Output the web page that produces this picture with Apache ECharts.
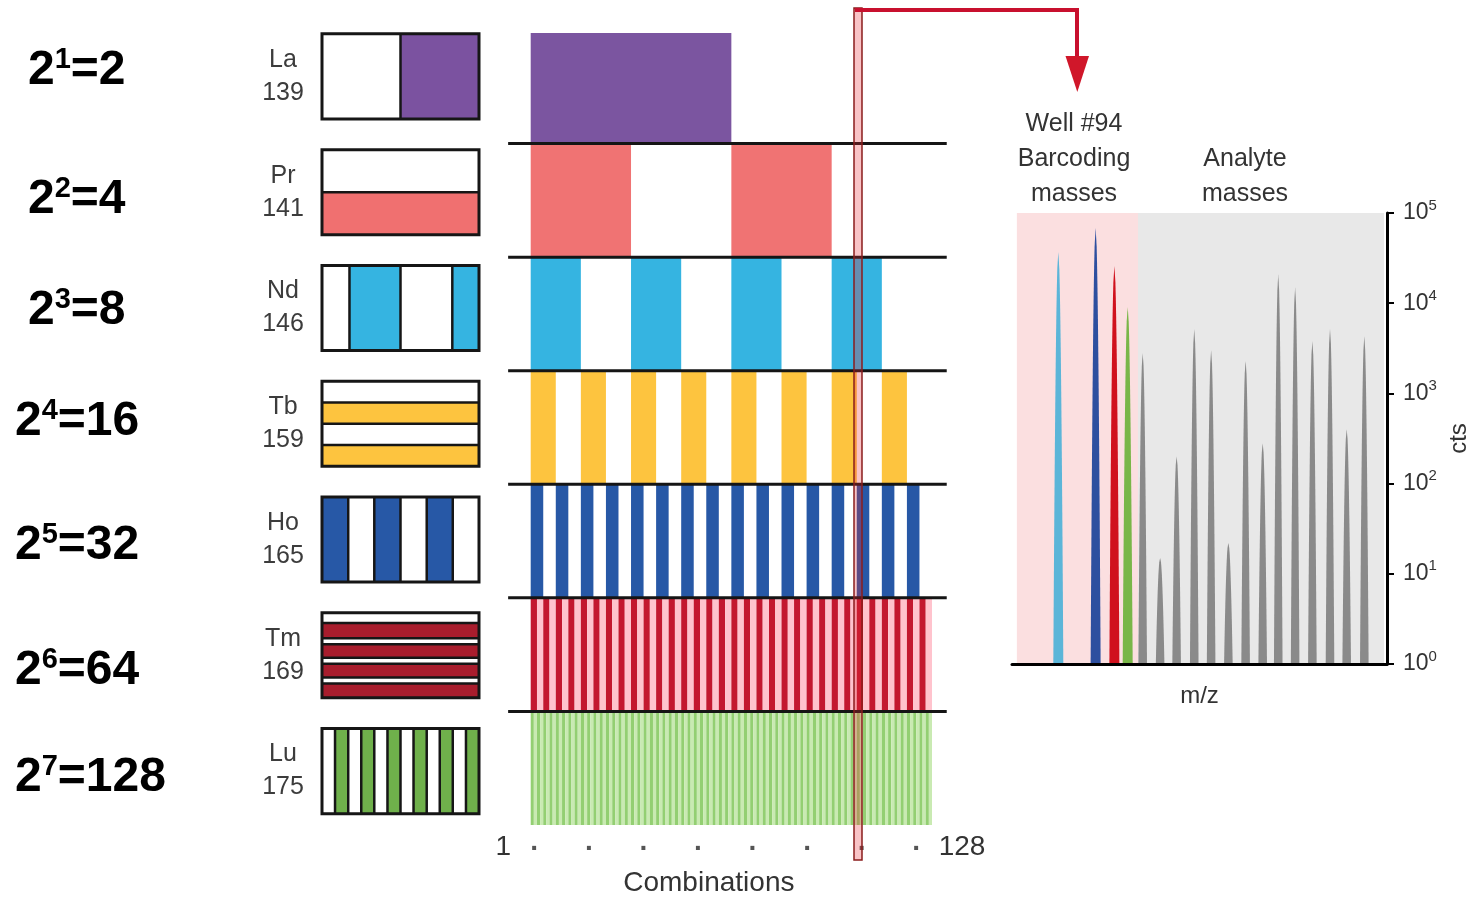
<!DOCTYPE html>
<html>
<head>
<meta charset="utf-8">
<title>Metal barcoding</title>
<script src="https://cdn.jsdelivr.net/npm/echarts@6/dist/echarts.min.js"></script>
<style>
  html, body { margin: 0; padding: 0; background: #fff; }
  #chart { width: 1476px; height: 897px; }
</style>
</head>
<body>
<div id="chart"></div>
<script>
// barcoding channels, top to bottom
const metals = ['La', 'Pr', 'Nd', 'Tb', 'Ho', 'Tm', 'Lu']
const masses = [139, 141, 146, 159, 165, 169, 175]
const exponents = [1, 2, 3, 4, 5, 6, 7]
const wellCounts = [2, 4, 8, 16, 32, 64, 128]
// each row alternates filled / empty blocks of this many combinations
const runLengths = [64, 32, 16, 8, 4, 2, 1]
const totalCombos = 128
const comboDots = ['·', '·', '·', '·', '·', '·', '·', '·']

// small key boxes: stripe direction, stripe boundaries (fraction of box), first stripe filled?
const keyOrient = ['v', 'h', 'v', 'h', 'v', 'h', 'v']
const keyFirstFilled = [false, false, false, false, true, false, false]
const keyCuts = [
  [0, 0.5, 1],
  [0, 0.5, 1],
  [0, 0.175, 0.5, 0.83, 1],
  [0, 0.25, 0.5, 0.75, 1],
  [0, 0.167, 0.333, 0.5, 0.667, 0.833, 1],
  [0, 0.12, 0.3, 0.37, 0.53, 0.6, 0.76, 0.83, 1],
  [0, 0.083, 0.167, 0.25, 0.333, 0.417, 0.5, 0.583, 0.667, 0.75, 0.833, 0.917, 1],
]

// spectrum of well #94 (x in arbitrary m/z units, counts on log scale)
const peakMz = [12.35, 22.3, 27.3, 30.85, 34.85, 39.5, 43.9, 48.6, 53.1, 57.7, 62.3, 66.85, 71.0, 75.5, 80.1, 84.8, 89.25, 93.95]
const peakCounts = [37000, 68000, 26000, 9100, 2800, 15, 200, 5200, 3000, 22, 2300, 280, 21000, 15000, 3800, 5200, 400, 4300]
const peakChannel = ['Nd', 'Ho', 'Tm', 'Lu', '', '', '', '', '', '', '', '', '', '', '', '', '', '']
const regionNames = ['Barcoding', 'Analyte']
const regionRanges = [[1.3, 33.6], [33.6, 99.2]]

const FONT = '"Liberation Sans", Arial, sans-serif'
const barColors = ['#7b55a0', '#f07373', '#35b4e1', '#fdc43f', '#2758a6', '#c3182f', '#93cf72']
const offColors = [null, null, null, null, null, '#ffc3cd', '#c9eab2']
const keyColors = ['#7b52a0', '#f07070', '#35b4e1', '#fdc43f', '#2758a6', '#a81d2d', '#6fb04b']
const peakColors = { Nd: '#5bb5d8', Ho: '#2d4f9f', Tm: '#d0111d', Lu: '#79b648', '': '#8a8a8a' }
const regionColors = { Barcoding: '#fbdfe0', Analyte: '#e8e8e8' }

// build barcode segments from the run lengths
const barcodeData = []
runLengths.forEach((run, row) => {
  for (let s = 0; s < totalCombos; s += run) {
    const on = (s / run) % 2 === 0 ? 1 : 0
    if (on || offColors[row]) barcodeData.push([s, s + run, row, on])
  }
})
const separatorData = metals.slice(1).map((m, i) => [0, totalCombos, i + 1])
const keyData = metals.map((m, i) => [0, i])
const peakData = peakMz.map((x, i) => [x, peakCounts[i], i])
const regionData = regionRanges.map((r, i) => [r[0], r[1], i])

const chart = echarts.init(document.getElementById('chart'))

const powerLabelPos = [[28, 71], [28, 200], [28, 311], [15, 422], [15, 546], [15, 671], [15, 778]]
const powerLabels = exponents.map((e, i) => ({
  type: 'text',
  x: powerLabelPos[i][0],
  y: powerLabelPos[i][1],
  z: 50,
  style: {
    text: `{b|2}{s|${e}}{b|=${wellCounts[i]}}`,
    verticalAlign: 'middle',
    align: 'left',
    rich: {
      b: { fontSize: 48, fontWeight: 'bold', fontFamily: FONT, fill: '#000', lineHeight: 52 },
      s: { fontSize: 29, fontWeight: 'bold', fontFamily: FONT, fill: '#000', lineHeight: 38, verticalAlign: 'top' },
    },
  },
}))

const textStyle = (text, x, y) => ({
  type: 'text', x, y, z: 50,
  style: { text, align: 'center', verticalAlign: 'middle', fontSize: 25, lineHeight: 35, fontFamily: FONT, fill: '#333' },
})

chart.setOption({
  backgroundColor: '#fff',
  animation: false,
  textStyle: { fontFamily: FONT },
  grid: [
    { left: 530.7, top: 30, width: 401.3, height: 795, outerBoundsMode: 'none' },   // barcode
    { left: 322, top: 18.5, width: 157, height: 810.5, outerBoundsMode: 'none' },   // key boxes
    { left: 1012, top: 213, width: 375, height: 451, outerBoundsMode: 'none' },     // spectrum
    { left: 535, top: 833, width: 382, height: 2, outerBoundsMode: 'none' },        // combination dots
  ],
  xAxis: [
    {
      gridIndex: 0, type: 'value', min: 0, max: totalCombos, interval: totalCombos,
      axisLine: { show: false }, axisTick: { show: false }, splitLine: { show: false },
      axisLabel: {
        margin: 8, fontSize: 28, color: '#333',
        formatter: (v) => (v === 0 ? '{l|1}' : v === totalCombos ? '{r|128}' : ''),
        rich: { l: { padding: [0, 55, 0, 0], fontSize: 28, color: '#333' }, r: { padding: [0, 0, 0, 60], fontSize: 28, color: '#333' } },
      },
      name: 'Combinations', nameLocation: 'middle', nameGap: 44,
      nameTextStyle: { fontSize: 28, color: '#333', padding: [0, 45, 0, 0] },
    },
    { gridIndex: 1, type: 'value', min: 0, max: 1, show: false },
    {
      gridIndex: 2, type: 'value', min: 0, max: 100, z: 10,
      axisLine: { onZero: false, lineStyle: { color: '#000', width: 3 } },
      axisTick: { show: false }, axisLabel: { show: false }, splitLine: { show: false },
      name: 'm/z', nameLocation: 'middle', nameGap: 20,
      nameTextStyle: { fontSize: 24, color: '#333' },
    },
    {
      gridIndex: 3, type: 'category', data: comboDots, boundaryGap: false,
      axisLine: { show: false }, axisTick: { show: false },
      axisLabel: { interval: 0, margin: 0, fontSize: 28, fontWeight: 'bold', color: '#555' },
    },
  ],
  yAxis: [
    { gridIndex: 0, type: 'category', data: metals, inverse: true, show: false },
    {
      gridIndex: 1, type: 'category', inverse: true,
      data: metals.map((m, i) => `${m}\n${masses[i]}`),
      axisLine: { show: false }, axisTick: { show: false },
      axisLabel: { align: 'center', margin: 39, fontSize: 25, lineHeight: 33, color: '#3c3c3c' },
    },
    {
      gridIndex: 2, type: 'log', logBase: 10, min: 1, max: 100000, position: 'right', z: 10,
      axisLine: { show: true, onZero: false, lineStyle: { color: '#000', width: 3 } },
      axisTick: { show: true, inside: false, length: 7, lineStyle: { color: '#000', width: 2 } },
      splitLine: { show: false }, minorTick: { show: false },
      axisLabel: {
        margin: 16, color: '#333',
        formatter: (v) => `{b|10}{s|${Math.round(Math.log10(v))}}`,
        rich: {
          b: { fontSize: 23, color: '#333', lineHeight: 30 },
          s: { fontSize: 15, color: '#333', lineHeight: 18, verticalAlign: 'top' },
        },
      },
      name: 'cts', nameLocation: 'middle', nameRotate: 90, nameGap: 60,
      nameTextStyle: { fontSize: 24, color: '#333' },
    },
    { gridIndex: 3, type: 'value', show: false },
  ],
  series: [
    {
      name: 'barcode', type: 'custom', xAxisIndex: 0, yAxisIndex: 0,
      data: barcodeData, encode: { x: [0, 1], y: 2 }, z: 2,
      renderItem: (params, api) => {
        const row = api.value(2)
        const p0 = api.coord([api.value(0), row])
        const p1 = api.coord([api.value(1), row])
        const band = api.size([0, 1])[1]
        // top row starts a little below the grid edge
        const inset = row === 0 ? 3 : 0
        return {
          type: 'rect',
          shape: { x: p0[0], y: p0[1] - band / 2 + inset, width: p1[0] - p0[0], height: band - inset },
          style: { fill: api.value(3) ? barColors[row] : offColors[row] },
        }
      },
    },
    {
      name: 'separators', type: 'custom', xAxisIndex: 0, yAxisIndex: 0, clip: false,
      data: separatorData, encode: { x: [0, 1], y: 2 }, z: 3,
      renderItem: (params, api) => {
        const row = api.value(2)
        const band = api.size([0, 1])[1]
        const a = api.coord([api.value(0) - 7.2, row])
        const b = api.coord([api.value(1) + 4.7, row])
        const y = a[1] - band / 2
        return {
          type: 'line',
          shape: { x1: a[0], y1: y, x2: b[0], y2: y },
          style: { stroke: '#151515', lineWidth: 3 },
        }
      },
    },
    {
      name: 'key', type: 'custom', xAxisIndex: 1, yAxisIndex: 1, clip: false,
      data: keyData, encode: { x: 0, y: 1 },
      renderItem: (params, api) => {
        const row = api.value(1)
        const c = api.coord([0, row])
        const w = api.size([1, 0])[0]
        const h = api.size([0, 1])[1] * 0.735
        const x0 = c[0]
        const y0 = c[1] - h / 2
        const cuts = keyCuts[row]
        const vert = keyOrient[row] === 'v'
        const children = []
        for (let i = 0; i < cuts.length - 1; i++) {
          const filled = (i % 2 === 0) === keyFirstFilled[row]
          const a = cuts[i]
          const b = cuts[i + 1]
          children.push({
            type: 'rect',
            shape: vert
              ? { x: x0 + a * w, y: y0, width: (b - a) * w, height: h }
              : { x: x0, y: y0 + a * h, width: w, height: (b - a) * h },
            style: { fill: filled ? keyColors[row] : '#fff' },
          })
        }
        for (let i = 1; i < cuts.length - 1; i++) {
          const t = cuts[i]
          children.push({
            type: 'line',
            shape: vert
              ? { x1: x0 + t * w, y1: y0, x2: x0 + t * w, y2: y0 + h }
              : { x1: x0, y1: y0 + t * h, x2: x0 + w, y2: y0 + t * h },
            style: { stroke: '#161616', lineWidth: 2.5 },
          })
        }
        children.push({
          type: 'rect',
          shape: { x: x0, y: y0, width: w, height: h },
          style: { fill: 'none', stroke: '#161616', lineWidth: 3 },
        })
        return { type: 'group', children }
      },
    },
    {
      name: 'regions', type: 'custom', xAxisIndex: 2, yAxisIndex: 2,
      data: regionData, encode: { x: [0, 1] }, z: 1,
      renderItem: (params, api) => {
        const p0 = api.coord([api.value(0), 100000])
        const p1 = api.coord([api.value(1), 1])
        return {
          type: 'rect',
          shape: { x: p0[0], y: p0[1], width: p1[0] - p0[0], height: p1[1] - p0[1] },
          style: { fill: regionColors[regionNames[api.value(2)]] },
        }
      },
    },
    {
      name: 'peaks', type: 'custom', xAxisIndex: 2, yAxisIndex: 2,
      data: peakData, encode: { x: 0, y: 1 }, z: 2,
      renderItem: (params, api) => {
        const idx = api.value(2)
        const ch = peakChannel[idx]
        const apex = api.coord([api.value(0), api.value(1)])
        const base = api.coord([api.value(0), 1])
        const half = ch ? 5 : 4.3
        const n = 24
        const pts = []
        for (let k = n; k >= 0; k--) {
          const t = k / n
          pts.push([apex[0] - half * Math.sqrt(t), apex[1] + t * (base[1] - apex[1])])
        }
        for (let k = 1; k <= n; k++) {
          const t = k / n
          pts.push([apex[0] + half * Math.sqrt(t), apex[1] + t * (base[1] - apex[1])])
        }
        return { type: 'polygon', shape: { points: pts }, style: { fill: peakColors[ch] } }
      },
    },
  ],
  graphic: [
    ...powerLabels,
    textStyle('Well #94\nBarcoding\nmasses', 1074, 159),
    textStyle('Analyte\nmasses', 1245, 177),
    {
      type: 'rect', z: 100,
      shape: { x: 854, y: 8, width: 8, height: 852 },
      style: { fill: 'rgba(232, 40, 50, 0.28)', stroke: '#8b1c1c', lineWidth: 1.5 },
    },
    {
      type: 'polyline', z: 101,
      shape: { points: [[855, 10], [1077, 10], [1077, 60]] },
      style: { stroke: '#c8102e', lineWidth: 4, fill: 'none' },
    },
    {
      type: 'polygon', z: 101,
      shape: { points: [[1065.5, 56], [1089, 56], [1077.3, 92]] },
      style: { fill: '#d0172a' },
    },
  ],
})
</script>
</body>
</html>
